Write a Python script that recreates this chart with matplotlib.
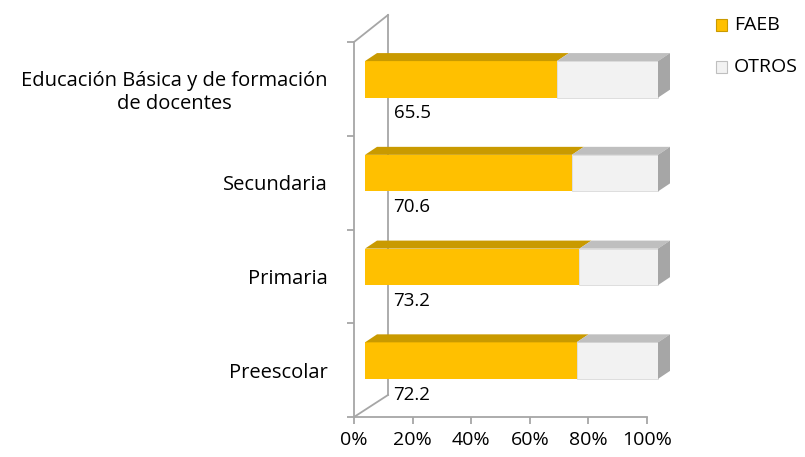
import matplotlib
matplotlib.use('Agg')
import matplotlib.pyplot as plt
from matplotlib.patches import Polygon, Rectangle
from matplotlib.transforms import offset_copy, IdentityTransform
import numpy as np

categorias = ['Preescolar', 'Primaria', 'Secundaria',
              'Educación Básica y de formación\nde docentes']
faeb = [72.2, 73.2, 70.6, 65.5]
otros = [100 - v for v in faeb]
x_ticks = [0, 20, 40, 60, 80, 100]
x_labels = ['0%', '20%', '40%', '60%', '80%', '100%']
series = ['FAEB', 'OTROS']

plt.rcParams['font.family'] = ['Open Sans', 'DejaVu Sans']

amarillo = '#FFC000'
amarillo_top = '#C99A00'
gris = '#F2F2F2'
gris_top = '#BFBFBF'
gris_lado = '#A6A6A6'
linea = '#A6A6A6'

fig = plt.figure(figsize=(8.05, 4.57), dpi=100)
ax = fig.add_axes([354 / 805, 40 / 457, 293 / 805, 375 / 457])
ax.set_xlim(0, 100)
ax.set_ylim(-0.5, 3.5)

y = np.arange(len(categorias))
h = 0.39

# cara frontal de las barras, desplazada hacia el fondo
tr = offset_copy(ax.transData, fig=fig, x=11, y=9.5, units='dots')
ax.barh(y, faeb, height=h, color=amarillo, transform=tr, zorder=3, clip_on=False)
ax.barh(y, otros, left=faeb, height=h, color=gris, edgecolor='#D9D9D9',
        linewidth=0.6, transform=tr, zorder=3, clip_on=False)

# cara superior y lateral
d = np.array([12, 8])
for yi, f in zip(y, faeb):
    for a, b, c in [(0, f, amarillo_top), (f, 100, gris_top)]:
        p1 = tr.transform((a, yi + h / 2))
        p2 = tr.transform((b, yi + h / 2))
        ax.add_patch(Polygon([p1, p2, p2 + d, p1 + d], closed=True,
                             facecolor=c, edgecolor='none', clip_on=False,
                             transform=IdentityTransform(), zorder=3))
    q1 = tr.transform((100, yi - h / 2))
    q2 = tr.transform((100, yi + h / 2))
    ax.add_patch(Polygon([q1, q2, q2 + d, q1 + d], closed=True,
                         facecolor=gris_lado, edgecolor='none', clip_on=False,
                         transform=IdentityTransform(), zorder=3))

# pared lateral 3D
p_top = ax.transData.transform((0, 3.5))
p_bot = ax.transData.transform((0, -0.5))
b_top = p_top + np.array([34, 27])
b_bot = p_bot + np.array([34, 22])
for xs, ys in [([p_top[0], b_top[0]], [p_top[1], b_top[1]]),
               ([b_top[0], b_bot[0]], [b_top[1], b_bot[1]]),
               ([p_bot[0], b_bot[0]], [p_bot[1], b_bot[1]])]:
    ax.plot(xs, ys, color=linea, lw=1.3, transform=IdentityTransform(),
            clip_on=False, zorder=1)

# etiquetas de valor
for yi, f in zip(y, faeb):
    ax.text(13.5, yi - 0.26, f'{f:.1f}', ha='left', va='center',
            fontsize=13.5, color='black', zorder=4)

for s in ['top', 'right']:
    ax.spines[s].set_visible(False)
for s in ['left', 'bottom']:
    ax.spines[s].set_color(linea)
    ax.spines[s].set_linewidth(1.3)

ax.set_xticks(x_ticks)
ax.set_xticklabels(x_labels, fontsize=14)
ax.set_yticks([-0.5, 0.5, 1.5, 2.5, 3.5])
ax.set_yticklabels([])
ax.set_yticks(y, minor=True)
ax.set_yticklabels(categorias, minor=True, fontsize=14.5, multialignment='center',
                   linespacing=1.15)
ax.tick_params(axis='y', which='major', length=5, color=linea, width=1.3)
ax.tick_params(axis='y', which='minor', length=0, pad=19)
ax.tick_params(axis='x', length=5, color=linea, width=1.3, pad=5)

# leyenda
colores_ley = [(amarillo, '#C99A00'), (gris, '#BFBFBF')]
for i, (nombre, (fc, ec)) in enumerate(zip(series, colores_ley)):
    yc = 457 - (25 + 42 * i)
    fig.add_artist(Rectangle((716, yc - 6), 11, 12, facecolor=fc, edgecolor=ec,
                             linewidth=0.8, transform=IdentityTransform()))
    fig.text(734 / 805, yc / 457, nombre, ha='left', va='center', fontsize=14)

fig.savefig('out.png', dpi=100)
